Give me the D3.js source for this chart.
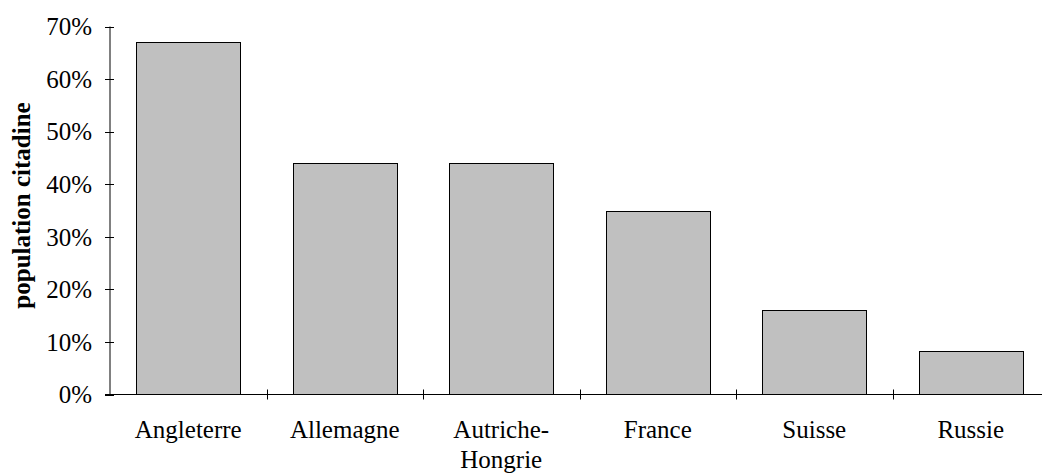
<!DOCTYPE html>
<html><head><meta charset="utf-8">
<script src="https://cdn.jsdelivr.net/npm/d3@7"></script>
<style>body{margin:0;background:#fff}svg{display:block}</style>
</head><body>
<svg id="c" width="1042" height="473" font-family="'Times New Roman', 'Liberation Serif', 'DejaVu Serif', serif"></svg>
<script>
const categories = ["Angleterre", "Allemagne", "Autriche-Hongrie", "France", "Suisse", "Russie"];
const labelLines = [["Angleterre"], ["Allemagne"], ["Autriche-", "Hongrie"], ["France"], ["Suisse"], ["Russie"]];
const values = [0.67, 0.44, 0.44, 0.35, 0.16, 0.083];
const yTicks = [0, 0.1, 0.2, 0.3, 0.4, 0.5, 0.6, 0.7];
const yTitle = "population citadine";

const svg = d3.select("#c");
const pLeft = 110, pRight = 1049, pTop = 26.5, pBottom = 394.5;
const x = d3.scaleBand().domain(categories).range([pLeft, pRight]).paddingInner(1/3).paddingOuter(1/6);
const y = d3.scaleLinear().domain([0, 0.7]).range([pBottom, pTop]);
const xb = d3.scaleBand().domain(categories).range([pLeft, pRight]);

// bars
svg.selectAll("rect.bar").data(values).join("rect")
  .attr("class", "bar")
  .attr("x", (d, i) => Math.round(x(categories[i])) + 0.5)
  .attr("width", Math.round(x.bandwidth()))
  .attr("y", d => Math.round(y(d)) + 0.5)
  .attr("height", d => pBottom - (Math.round(y(d)) + 0.5))
  .attr("fill", "#c0c0c0").attr("stroke", "#000").attr("stroke-width", 1);

// y axis
svg.append("line").attr("x1", pLeft).attr("x2", pLeft).attr("y1", pTop).attr("y2", pBottom)
  .attr("stroke", "#808080").attr("stroke-width", 2);
svg.selectAll("line.yt").data(yTicks).join("line").attr("class", "yt")
  .attr("x1", pLeft - 5).attr("x2", pLeft + 4)
  .attr("y1", d => Math.round(y(d)) + 0.5).attr("y2", d => Math.round(y(d)) + 0.5)
  .attr("stroke", "#000").attr("stroke-width", 1);
svg.selectAll("text.yl").data(yTicks).join("text").attr("class", "yl")
  .attr("x", 92).attr("y", d => y(d)).attr("dy", "0.35em")
  .attr("text-anchor", "end").attr("font-size", 25).attr("fill", "#000")
  .text(d3.format(".0%"));

// x axis
svg.append("line").attr("x1", pLeft - 5).attr("x2", 1042).attr("y1", pBottom).attr("y2", pBottom)
  .attr("stroke", "#000").attr("stroke-width", 1);
svg.selectAll("line.xt").data(categories.slice(1)).join("line").attr("class", "xt")
  .attr("x1", d => Math.round(xb(d)) + 0.5).attr("x2", d => Math.round(xb(d)) + 0.5)
  .attr("y1", pBottom - 5).attr("y2", pBottom + 5)
  .attr("stroke", "#000").attr("stroke-width", 1);
const xl = svg.selectAll("text.xl").data(categories).join("text").attr("class", "xl")
  .attr("x", d => x(d) + x.bandwidth() / 2).attr("y", 438)
  .attr("text-anchor", "middle").attr("font-size", 25).attr("fill", "#000");
xl.selectAll("tspan").data((d, i) => labelLines[i]).join("tspan")
  .attr("x", function() { return this.parentNode.getAttribute("x"); })
  .attr("dy", (d, j) => j === 0 ? 0 : 30)
  .text(d => d);

// y title
svg.append("text").attr("transform", `translate(30,${(pTop + pBottom) / 2 - 5}) rotate(-90)`)
  .attr("text-anchor", "middle").attr("font-size", 25).attr("font-weight", "bold").attr("fill", "#000")
  .text(yTitle);
</script>
</body></html>
